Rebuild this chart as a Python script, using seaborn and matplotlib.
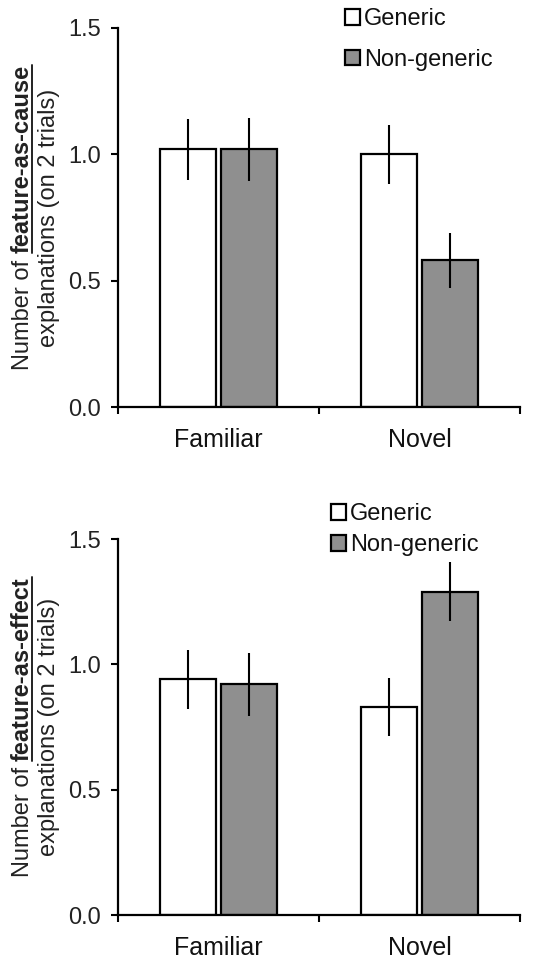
import pandas as pd
import seaborn as sns
import matplotlib.pyplot as plt
from matplotlib.lines import Line2D
from matplotlib.transforms import IdentityTransform
from matplotlib.ticker import FixedLocator, FormatStrFormatter

# data (order: Familiar-Generic, Familiar-Non, Novel-Generic, Novel-Non)
conditions = ['Familiar', 'Familiar', 'Novel', 'Novel']
framing = ['Generic', 'Non-generic', 'Generic', 'Non-generic']
cause_mean = [1.02, 1.02, 1.00, 0.58]
cause_se = [0.12, 0.125, 0.117, 0.109]
effect_mean = [0.94, 0.92, 0.83, 1.29]
effect_se = [0.118, 0.125, 0.115, 0.117]

sns.set_theme(style="ticks")
plt.rcParams['font.family'] = ['Liberation Sans', 'DejaVu Sans']
plt.rcParams['text.color'] = '#111111'

DPI = 100
fig = plt.figure(figsize=(5.36, 9.61), dpi=DPI)
W, H = 536, 961

palette = {'Generic': 'white', 'Non-generic': '#8f8f8f'}


def draw_panel(top_px, bot_px, mean, se, word, legend_xy, lab_sp):
    ax = fig.add_axes([118 / W, 1 - bot_px / H, (520 - 118) / W, (bot_px - top_px) / H])
    df = pd.DataFrame({'Condition': conditions, 'Framing': framing, 'Mean': mean, 'SE': se})
    sns.barplot(data=df, x='Condition', y='Mean', hue='Framing', palette=palette,
                order=['Familiar', 'Novel'], hue_order=['Generic', 'Non-generic'],
                width=0.61, gap=0.08, errorbar=None, edgecolor='black', linewidth=1.6, ax=ax)
    # error bars, placed on the seaborn bars
    for cont, lvl in zip(ax.containers, ['Generic', 'Non-generic']):
        sub = df[df['Framing'] == lvl]
        xs = [b.get_x() + b.get_width() / 2 for b in cont]
        ax.errorbar(xs, sub['Mean'].values, yerr=sub['SE'].values, fmt='none',
                    ecolor='black', elinewidth=1.5, capsize=0)
    ax.set_xlim(-0.5, 1.5)
    ax.set_ylim(0, 1.5)
    ax.set_yticks([0, 0.5, 1.0, 1.5])
    ax.yaxis.set_major_formatter(FormatStrFormatter('%.1f'))
    ax.xaxis.set_minor_locator(FixedLocator([-0.5, 0.5, 1.5]))
    ax.tick_params(axis='x', which='major', length=0, pad=15, labelsize=18, labelcolor='#111111')
    ax.tick_params(axis='x', which='minor', length=5, width=1.5, color='black', direction='out')
    ax.tick_params(axis='y', length=5, width=1.5, color='black', pad=7, labelsize=17,
                   labelcolor='#222222')
    ax.set_xlabel('')
    ax.set_ylabel('')
    sns.despine(ax=ax)
    for s in ['left', 'bottom']:
        ax.spines[s].set_linewidth(1.6)
        ax.spines[s].set_color('black')
    sns.move_legend(ax, 'upper left', bbox_to_anchor=(legend_xy[0] / W, 1 - legend_xy[1] / H),
                    bbox_transform=fig.transFigure, frameon=False, title=None, fontsize=17,
                    handlelength=0.65, handleheight=0.65, handletextpad=0.15,
                    labelspacing=lab_sp, borderaxespad=0, borderpad=0)

    # two-line y label with a bold, underlined phrase
    fig.canvas.draw()
    r = fig.canvas.get_renderer()
    yc = H - (top_px + bot_px) / 2
    fs = 17
    kw = dict(rotation=90, rotation_mode='anchor', ha='left', va='baseline',
              transform=IdentityTransform(), fontsize=fs, color='#222222')
    ta = fig.text(29, yc, 'Number of', **kw)
    tb = fig.text(29, yc, word, fontweight='bold', **kw)
    wa = ta.get_window_extent(r).height
    wb = tb.get_window_extent(r).height
    sp = 0.278 * fs * DPI / 72
    y0 = yc - (wa + sp + wb) / 2
    ta.set_y(y0)
    tb.set_y(y0 + wa + sp)
    fig.add_artist(Line2D([32, 32], [y0 + wa + sp, y0 + wa + sp + wb], lw=1.4,
                          color='#222222', transform=IdentityTransform()))
    kw2 = dict(kw, ha='center')
    fig.text(55, yc, 'explanations (on 2 trials)', **kw2)
    return ax


draw_panel(28, 407, cause_mean, cause_se, 'feature-as-cause', (345, 8), 0.8)
draw_panel(539, 915, effect_mean, effect_se, 'feature-as-effect', (331, 503), 0.4)

fig.savefig('out.png', dpi=DPI)
